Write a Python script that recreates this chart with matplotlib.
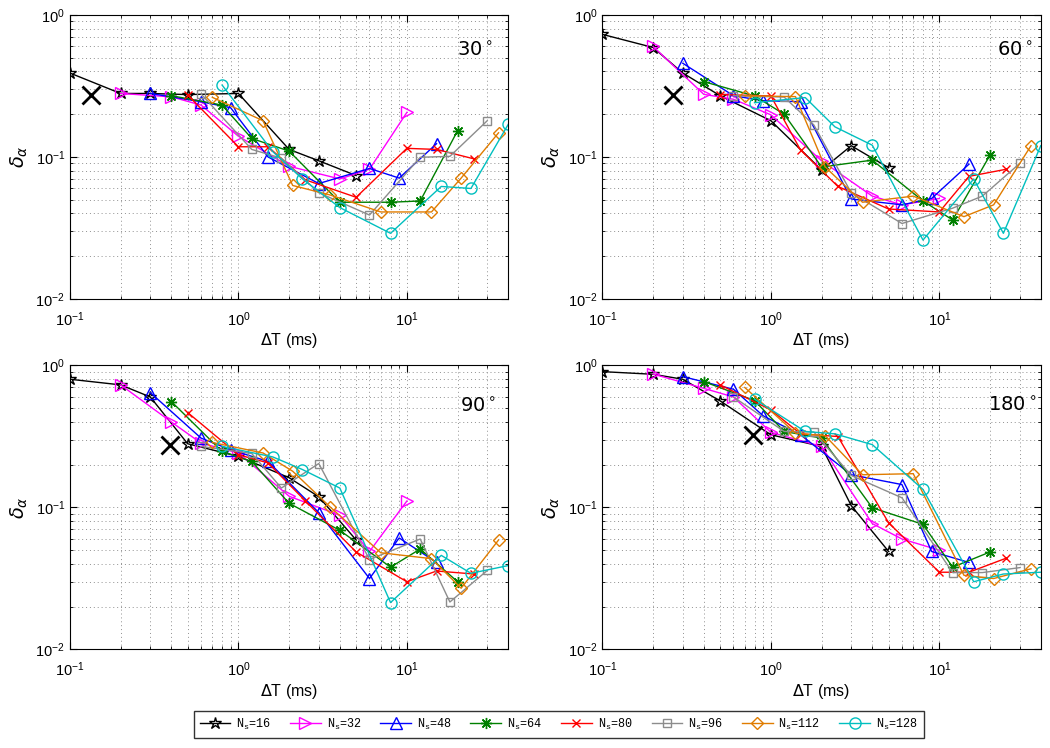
import matplotlib
matplotlib.use('Agg')
import matplotlib.pyplot as plt

plt.rcParams['font.family'] = ['Liberation Sans', 'DejaVu Sans']

# Delta T values (ms) for each Ns
dt_16 = [0.1, 0.2, 0.3, 0.5, 1.0, 2.0, 3.0, 5.0]
dt_32 = [0.2, 0.4, 0.6, 1.0, 2.0, 4.0, 6.0, 10.0]
dt_48 = [0.3, 0.6, 0.9, 1.5, 3.0, 6.0, 9.0, 15.0]
dt_64 = [0.4, 0.8, 1.2, 2.0, 4.0, 8.0, 12.0, 20.0]
dt_80 = [0.5, 1.0, 1.5, 2.5, 5.0, 10.0, 15.0, 25.0]
dt_96 = [0.6, 1.2, 1.8, 3.0, 6.0, 12.0, 18.0, 30.0]
dt_112 = [0.7, 1.4, 2.1, 3.5, 7.0, 14.0, 21.0, 35.0]
dt_128 = [0.8, 1.6, 2.4, 4.0, 8.0, 16.0, 24.0, 40.0]

# delta_alpha, 30 deg
a30_16 = [0.39, 0.28, 0.28, 0.275, 0.28, 0.113, 0.094, 0.074]
a30_32 = [0.28, 0.265, 0.232, 0.14, 0.086, 0.070, 0.082, 0.206]
a30_48 = [0.28, 0.245, 0.222, 0.100, 0.065, 0.083, 0.071, 0.124]
a30_64 = [0.27, 0.232, 0.135, 0.110, 0.048, 0.048, 0.049, 0.153]
a30_80 = [0.273, 0.118, 0.118, 0.069, 0.052, 0.115, 0.113, 0.097]
a30_96 = [0.278, 0.113, 0.098, 0.056, 0.039, 0.0995, 0.101, 0.18]
a30_112 = [0.263, 0.18, 0.063, 0.054, 0.041, 0.041, 0.071, 0.148]
a30_128 = [0.321, 0.109, 0.070, 0.044, 0.029, 0.062, 0.060, 0.17]

# 60 deg
a60_16 = [0.73, 0.59, 0.39, 0.27, 0.18, 0.081, 0.12, 0.084]
a60_32 = [0.60, 0.276, 0.255, 0.198, 0.094, 0.053, 0.046, 0.051]
a60_48 = [0.457, 0.27, 0.249, 0.245, 0.0506, 0.046, 0.051, 0.089]
a60_64 = [0.339, 0.269, 0.20, 0.085, 0.095, 0.049, 0.036, 0.103]
a60_80 = [0.275, 0.269, 0.112, 0.062, 0.043, 0.041, 0.073, 0.082]
a60_96 = [0.27, 0.264, 0.168, 0.056, 0.034, 0.0436, 0.053, 0.09]
a60_112 = [0.27, 0.266, 0.085, 0.048, 0.053, 0.038, 0.046, 0.12]
a60_128 = [0.241, 0.262, 0.163, 0.121, 0.026, 0.07, 0.029, 0.12]

# 90 deg
a90_16 = [0.80, 0.73, 0.60, 0.281, 0.229, 0.162, 0.119, 0.059]
a90_32 = [0.73, 0.40, 0.284, 0.242, 0.12, 0.088, 0.049, 0.111]
a90_48 = [0.644, 0.308, 0.255, 0.211, 0.092, 0.0316, 0.061, 0.041]
a90_64 = [0.557, 0.248, 0.211, 0.107, 0.069, 0.038, 0.051, 0.030]
a90_80 = [0.466, 0.235, 0.206, 0.111, 0.0486, 0.030, 0.0357, 0.034]
a90_96 = [0.269, 0.24, 0.137, 0.204, 0.043, 0.060, 0.0216, 0.036]
a90_112 = [0.287, 0.242, 0.18, 0.101, 0.048, 0.0436, 0.027, 0.059]
a90_128 = [0.269, 0.227, 0.185, 0.137, 0.0214, 0.046, 0.0344, 0.039]

# 180 deg
a180_16 = [0.905, 0.867, 0.80, 0.563, 0.325, 0.269, 0.103, 0.049]
a180_32 = [0.87, 0.69, 0.60, 0.338, 0.269, 0.077, 0.060, 0.050]
a180_48 = [0.835, 0.68, 0.442, 0.325, 0.17, 0.145, 0.049, 0.041]
a180_64 = [0.77, 0.566, 0.343, 0.308, 0.0995, 0.076, 0.038, 0.0486]
a180_80 = [0.73, 0.487, 0.33, 0.316, 0.078, 0.035, 0.035, 0.044]
a180_96 = [0.60, 0.343, 0.34, 0.168, 0.117, 0.0348, 0.0348, 0.0377]
a180_112 = [0.70, 0.334, 0.32, 0.17, 0.173, 0.0333, 0.0316, 0.037]
a180_128 = [0.58, 0.343, 0.33, 0.277, 0.134, 0.030, 0.034, 0.035]

# big X reference points (dT, delta)
cross_dt = [0.133, 0.264, 0.39, 0.78]
cross_delta = [0.273, 0.273, 0.277, 0.325]

angles = ['30', '60', '90', '180']
ns_labels = ['16', '32', '48', '64', '80', '96', '112', '128']
dts = [dt_16, dt_32, dt_48, dt_64, dt_80, dt_96, dt_112, dt_128]
panels = [
    [a30_16, a30_32, a30_48, a30_64, a30_80, a30_96, a30_112, a30_128],
    [a60_16, a60_32, a60_48, a60_64, a60_80, a60_96, a60_112, a60_128],
    [a90_16, a90_32, a90_48, a90_64, a90_80, a90_96, a90_112, a90_128],
    [a180_16, a180_32, a180_48, a180_64, a180_80, a180_96, a180_112, a180_128],
]

colors = ['black', '#ff00ff', '#0000ff', '#008000', '#ff0000', '#8c8c8c', '#e07c00', '#00bfbf']
markers = ['*', '>', '^', (8, 2, 0), 'x', 's', 'D', 'o']
msizes = [9, 8, 8, 8, 6, 6, 6.5, 8]

fig = plt.figure(figsize=(10.5, 7.48), dpi=100)

# axes boxes in figure fractions: left, bottom, width, height
boxes = [
    [0.0666, 0.6003, 0.4175, 0.3797],
    [0.5737, 0.6003, 0.4175, 0.3797],
    [0.0666, 0.1317, 0.4175, 0.3797],
    [0.5737, 0.1317, 0.4175, 0.3797],
]
label_pos = [(0.883, 0.873), (0.90, 0.873), (0.89, 0.855), (0.88, 0.859)]

handles = []
for i, box in enumerate(boxes):
    ax = fig.add_axes(box)
    for j in range(8):
        h, = ax.plot(dts[j], panels[i][j], color=colors[j], marker=markers[j],
                     markersize=msizes[j], markerfacecolor='none',
                     markeredgecolor=colors[j], markeredgewidth=1, linewidth=1,
                     label=r'N$_\mathdefault{s}$=' + ns_labels[j])
        if i == 0:
            handles.append(h)
    ax.plot(cross_dt[i], cross_delta[i], 'x', color='black', markersize=13, markeredgewidth=2)

    ax.set_xscale('log')
    ax.set_yscale('log')
    ax.set_xlim(0.1, 40)
    ax.set_ylim(0.01, 1)
    ax.grid(True, which='both', linestyle=(0, (1, 3)), color='#909090', linewidth=0.7)
    ax.tick_params(which='both', direction='in', top=True, right=True, labelsize=10.5)
    ax.tick_params(axis='x', which='major', pad=8)
    ax.tick_params(which='major', length=5)
    ax.tick_params(which='minor', length=2.5)
    for sp in ax.spines.values():
        sp.set_linewidth(0.8)
    ax.set_xlabel(r'$\Delta$T (ms)', fontsize=11.5, labelpad=2)
    ax.set_ylabel(r'$\delta_\alpha$', fontsize=14, labelpad=4)
    ax.text(label_pos[i][0], label_pos[i][1], angles[i] + r'$^\circ$', transform=ax.transAxes,
            fontsize=14, family='DejaVu Sans', va='center', ha='left')

fig.legend(handles=handles, loc='center', bbox_to_anchor=(0.532, 0.032), ncol=8,
           prop={'family': 'Liberation Mono', 'size': 8.5}, frameon=True, fancybox=False,
           edgecolor='black', handlelength=2.6, columnspacing=1.6, handletextpad=0.5,
           borderpad=0.5)

fig.savefig('out.png', dpi=100)
